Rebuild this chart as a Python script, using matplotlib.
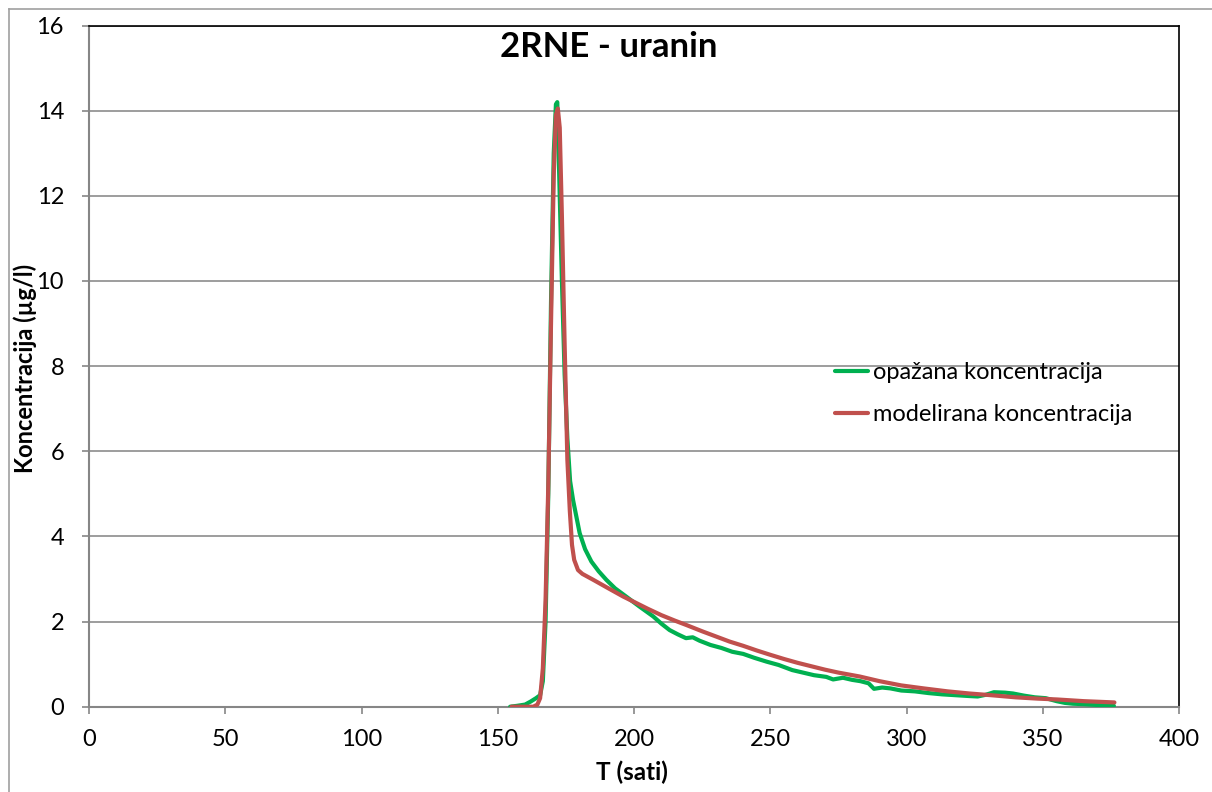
import matplotlib
matplotlib.use("Agg")
import matplotlib.pyplot as plt
from matplotlib.lines import Line2D

# Observed tracer concentration (time in hours, concentration in µg/l)
obs_t = [154.5, 157, 160, 162, 164, 165.5, 166.5, 167.5, 168.5, 169.5, 170.5,
         171.3, 171.8, 172.5, 173.5, 174.5, 175.5, 176.5, 177.6, 180, 182,
         184.3, 187, 189.8, 193, 197, 202, 207, 210, 213, 216, 219, 221.5,
         224, 228, 232, 236, 240, 244, 248.5, 253, 258, 262, 266, 270.5, 273,
         276.6, 280, 283, 286, 288, 291, 294, 298, 303, 308, 313, 318, 323,
         326, 329, 332, 336, 339, 343, 347, 351, 355, 358, 361, 365, 370, 376]
obs_c = [0.0, 0.02, 0.05, 0.12, 0.2, 0.27, 0.6, 2.0, 5.0, 9.5, 13.0,
         14.15, 14.2, 12.5, 10.0, 7.8, 6.3, 5.3, 4.85, 4.08, 3.7,
         3.41, 3.18, 2.98, 2.78, 2.59, 2.35, 2.12, 1.95, 1.80, 1.70, 1.61, 1.63,
         1.55, 1.45, 1.38, 1.29, 1.24, 1.15, 1.06, 0.98, 0.86, 0.80, 0.74, 0.70, 0.64,
         0.68, 0.63, 0.60, 0.55, 0.42, 0.45, 0.43, 0.38, 0.36, 0.32, 0.29, 0.27, 0.25,
         0.24, 0.28, 0.34, 0.33, 0.31, 0.26, 0.22, 0.20, 0.13, 0.09, 0.07, 0.06, 0.04, 0.02]

# Modelled concentration
mod_t = [155, 160, 163, 164.5, 165.5, 166.5, 167.5, 168.5, 169.5, 170.5, 171.3,
         172.0, 172.7, 173.5, 174.5, 175.5, 176.4, 177.2, 178.0, 179.4, 181,
         185, 190, 195.9, 200, 205, 210, 215, 219.1, 225, 230, 235, 240, 245,
         249.9, 255, 260, 265, 270, 275, 282.7, 290, 298, 306.2, 315, 323, 331,
         340, 348, 355.1, 365, 376.2]
mod_c = [0.0, 0.0, 0.0, 0.05, 0.2, 0.9, 2.5, 5.2, 9.0, 12.5, 13.9,
         14.05, 13.6, 11.5, 8.5, 5.8, 4.6, 3.8, 3.45, 3.21, 3.12,
         2.98, 2.80, 2.59, 2.46, 2.30, 2.15, 2.02, 1.92, 1.77, 1.65, 1.53, 1.43, 1.32,
         1.22, 1.12, 1.03, 0.95, 0.87, 0.80, 0.71, 0.60, 0.50, 0.43, 0.36, 0.31, 0.27,
         0.22, 0.19, 0.17, 0.13, 0.10]

x_ticks = [0, 50, 100, 150, 200, 250, 300, 350, 400]
y_ticks = [0, 2, 4, 6, 8, 10, 12, 14, 16]

title = "2RNE - uranin"
x_label = "T (sati)"
y_label = "Koncentracija (µg/l)"
series_names = ["opažana koncentracija", "modelirana koncentracija"]

GREEN = "#00B050"
RED = "#C0504D"
GRID = "#8C8C8C"

plt.rcParams["font.family"] = ["Lato", "DejaVu Sans"]

W, H = 1212, 792
fig = plt.figure(figsize=(W / 100, H / 100), dpi=100)
ax = fig.add_axes([89 / W, 1 - 706.7 / H, (1179.3 - 89) / W, (706.7 - 25.5) / H])

# outer chart frame (left and top edges visible)
fig.add_artist(Line2D([8.5 / W, 8.5 / W], [0, 1 - 8.5 / H], transform=fig.transFigure,
                      color="#A0A0A0", lw=1.2))
fig.add_artist(Line2D([8.5 / W, 1], [1 - 8.5 / H, 1 - 8.5 / H], transform=fig.transFigure,
                      color="#A0A0A0", lw=1.2))

ax.plot(obs_t, obs_c, color=GREEN, lw=3.0, solid_joinstyle="round",
        solid_capstyle="round", label=series_names[0], zorder=3)
ax.plot(mod_t, mod_c, color=RED, lw=3.0, solid_joinstyle="round",
        solid_capstyle="round", label=series_names[1], zorder=4)

ax.set_xlim(0, 400)
ax.set_ylim(0, 16)
ax.set_xticks(x_ticks)
ax.set_yticks(y_ticks)
ax.set_xticklabels([str(v) for v in x_ticks])
ax.set_yticklabels([str(v) for v in y_ticks])

ax.yaxis.grid(True, color=GRID, lw=1.2)
ax.set_axisbelow(True)

for side in ("left", "bottom"):
    ax.spines[side].set_color("#868686")
    ax.spines[side].set_linewidth(1.5)
for side in ("top", "right"):
    ax.spines[side].set_color("#000000")
    ax.spines[side].set_linewidth(1.2)

ax.tick_params(axis="both", direction="out", length=5, width=1.2, color="#868686",
               labelsize=17, labelcolor="black")
ax.tick_params(axis="x", pad=11)
ax.tick_params(axis="y", pad=13)

# axis titles placed in figure pixels
fig.text(632 / W, 1 - 772 / H, x_label, ha="center", va="center",
         fontsize=17.5, fontweight="bold")
fig.text(25 / W, 1 - 368 / H, y_label, ha="center", va="center", rotation=90,
         fontsize=17, fontweight="bold")

ax.text(0.477, (706.7 - 47) / 681.2, title, transform=ax.transAxes, ha="center",
        va="center", fontsize=25, fontweight="bold")

leg = ax.legend(loc="upper left", bbox_to_anchor=((835 - 89) / 1090.3, (706.7 - 362) / 681.2),
                frameon=False, fontsize=17, handlelength=1.4, handletextpad=0.2,
                labelspacing=0.9, borderaxespad=0, borderpad=0)

fig.savefig("out.png", dpi=100)
